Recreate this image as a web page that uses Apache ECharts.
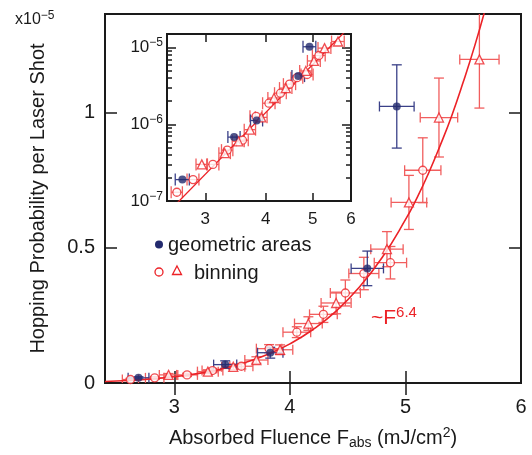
<!DOCTYPE html>
<html>
<head>
<meta charset="utf-8">
<script src="https://cdn.jsdelivr.net/npm/echarts@6/dist/echarts.min.js"></script>
<style>
  html, body { margin: 0; padding: 0; background: #fff; }
  #chart { width: 532px; height: 455px; }
</style>
</head>
<body>
<div id="chart"></div>
<script>
// values in units of 1e-5 (main plot), F in mJ/cm2
const geoF = [2.69, 3.44, 3.83, 4.67, 4.925];
const geoP = [0.019, 0.068, 0.112, 0.424, 1.023];
const geoFErr = [0.09, 0.10, 0.11, 0.14, 0.15];
const geoPErr = [0.004, 0.014, 0.02, 0.064, 0.154];

const circF = [2.62, 2.83, 3.11, 3.33, 3.58, 3.82, 4.06, 4.29, 4.48, 4.64, 4.87, 5.15];
const circP = [0.013, 0.019, 0.030, 0.046, 0.062, 0.127, 0.188, 0.254, 0.333, 0.405, 0.445, 0.787];
const circFErr = [0.07, 0.08, 0.09, 0.09, 0.10, 0.11, 0.12, 0.12, 0.13, 0.13, 0.14, 0.157];
const circPErr = [0.004, 0.005, 0.006, 0.008, 0.01, 0.015, 0.02, 0.03, 0.048, 0.06, 0.06, 0.12];

const triF = [2.95, 3.29, 3.51, 3.71, 3.915, 4.16, 4.40, 4.84, 5.03, 5.29, 5.64];
const triP = [0.030, 0.042, 0.060, 0.085, 0.123, 0.220, 0.296, 0.495, 0.668, 0.982, 1.197];
const triFErr = [0.08, 0.09, 0.10, 0.10, 0.11, 0.12, 0.13, 0.14, 0.154, 0.162, 0.17];
const triPErr = [0.005, 0.007, 0.01, 0.012, 0.018, 0.025, 0.04, 0.065, 0.10, 0.146, 0.18];

// ~F^6.4 fit line
const fitF = [2.4, 2.6, 2.8, 3.0, 3.2, 3.4, 3.6, 3.8, 4.0, 4.2, 4.4, 4.6, 4.8, 5.0, 5.1, 5.2, 5.3, 5.4, 5.5, 5.6, 5.7];
const fitP = [0.0055, 0.0092, 0.0148, 0.023, 0.0347, 0.0512, 0.0737, 0.1043, 0.1447, 0.1979, 0.266, 0.354, 0.465, 0.604, 0.685, 0.776, 0.878, 0.988, 1.113, 1.248, 1.397];
const insetFitF = [2.5, 6.0];
const insetFitP = [0.69e-7, 1.94e-5];

const mainXTicks = [3, 4, 5, 6];
const mainYTicks = [0, 0.5, 1];
const insetXTicks = [3, 4, 5, 6];
const insetYTicks = [1e-7, 1e-6, 1e-5];
const insetYMinor = [2e-7, 3e-7, 4e-7, 5e-7, 6e-7, 7e-7, 8e-7, 9e-7, 2e-6, 3e-6, 4e-6, 5e-6, 6e-6, 7e-6, 8e-6, 9e-6];

const FONT = '"Liberation Sans", Arial, sans-serif';
const NAVY = '#232a6e';
const NAVY_ERR = '#3a4088';
const RED = '#ec2227';
const RED_ERR = '#f15e5e';
const INK = '#1a1a1a';

const chart = echarts.init(document.getElementById('chart'));

function pts(fs, ps, scale) {
  return fs.map((f, i) => [f, ps[i] * scale]);
}
function errPts(fs, ps, fe, pe, scale) {
  return fs.map((f, i) => [f, ps[i] * scale, fe[i], pe[i] * scale]);
}

// error bars drawn through the axes' own coord mapping
function errorBars(color, cap, withY) {
  return function (params, api) {
    const x = api.value(0), y = api.value(1), ex = api.value(2), ey = api.value(3);
    const l = api.coord([x - ex, y]);
    const r = api.coord([x + ex, y]);
    const style = { stroke: color, lineWidth: 1.3, fill: null };
    const children = [
      { type: 'line', shape: { x1: l[0], y1: l[1], x2: r[0], y2: r[1] }, style },
      { type: 'line', shape: { x1: l[0], y1: l[1] - cap, x2: l[0], y2: l[1] + cap }, style },
      { type: 'line', shape: { x1: r[0], y1: r[1] - cap, x2: r[0], y2: r[1] + cap }, style },
    ];
    if (withY && ey > 0) {
      const t = api.coord([x, y + ey]);
      const b = api.coord([x, y - ey]);
      children.push(
        { type: 'line', shape: { x1: t[0], y1: t[1], x2: b[0], y2: b[1] }, style },
        { type: 'line', shape: { x1: t[0] - cap, y1: t[1], x2: t[0] + cap, y2: t[1] }, style },
        { type: 'line', shape: { x1: b[0] - cap, y1: b[1], x2: b[0] + cap, y2: b[1] }, style }
      );
    }
    return { type: 'group', children };
  };
}

const tickStyle = { color: INK, width: 1.5 };
const noLine = { show: false };
const noSplit = { show: false };

function tickAxis(base, ticks, len) {
  return Object.assign({
    axisLine: noLine,
    splitLine: noSplit,
    axisLabel: { show: false },
    axisTick: { inside: true, length: len, customValues: ticks, lineStyle: tickStyle },
  }, base);
}

const supRich = {
  b: { fontSize: 17, fontFamily: FONT, color: INK },
  s: { fontSize: 12, fontFamily: FONT, color: INK, padding: [0, 0, 9, 0] },
};

const option = {
  animation: false,
  backgroundColor: '#fff',
  grid: [
    { left: 105, top: 14, width: 416, height: 374, show: true, borderColor: INK, borderWidth: 2, backgroundColor: 'transparent' },
    { left: 167, top: 34, width: 184, height: 167, show: true, borderColor: INK, borderWidth: 2, backgroundColor: '#fff' },
  ],
  xAxis: [
    {
      type: 'value', gridIndex: 0, min: 2.4, max: 6, position: 'bottom',
      axisLine: noLine, splitLine: noSplit,
      axisTick: { inside: true, length: 12, customValues: [3, 4, 5], lineStyle: tickStyle },
      axisLabel: { customValues: mainXTicks, margin: 14, fontSize: 20, color: INK, fontFamily: FONT },
      name: '{a|Absorbed Fluence F}{sub|abs}{a| (mJ/cm}{sup|2}{a|)}',
      nameLocation: 'middle', nameGap: 43,
      nameTextStyle: {
        rich: {
          a: { fontSize: 20, fontFamily: FONT, color: INK },
          sub: { fontSize: 14, fontFamily: FONT, color: INK, padding: [10, 0, 0, 0] },
          sup: { fontSize: 14, fontFamily: FONT, color: INK, padding: [0, 0, 10, 0] },
        },
      },
    },
    tickAxis({ type: 'value', gridIndex: 0, min: 2.4, max: 6, position: 'top' }, [3, 4, 5], 12),
    {
      type: 'log', logBase: 10, gridIndex: 1, min: 2.5, max: 6, position: 'bottom',
      axisLine: noLine, splitLine: noSplit,
      axisTick: { inside: true, length: 8, customValues: [3, 4, 5], lineStyle: tickStyle },
      axisLabel: {
        customValues: insetXTicks, margin: 10, fontSize: 17, color: INK, fontFamily: FONT,
        formatter: (v) => String(Math.round(v)),
      },
    },
    tickAxis({ type: 'log', logBase: 10, gridIndex: 1, min: 2.5, max: 6, position: 'top' }, [3, 4, 5], 8),
  ],
  yAxis: [
    {
      type: 'value', gridIndex: 0, min: 0, max: 1.365, position: 'left',
      axisLine: noLine, splitLine: noSplit,
      axisTick: { inside: true, length: 12, customValues: [0.5, 1], lineStyle: tickStyle },
      axisLabel: { customValues: mainYTicks, margin: 10, fontSize: 20, color: INK, fontFamily: FONT },
      name: 'Hopping Probability per Laser Shot',
      nameLocation: 'middle', nameGap: 57, nameRotate: 90,
      nameTextStyle: { fontSize: 20, fontFamily: FONT, color: INK },
    },
    tickAxis({ type: 'value', gridIndex: 0, min: 0, max: 1.365, position: 'right' }, [0.5, 1], 12),
    {
      type: 'log', logBase: 10, gridIndex: 1, min: 1e-7, max: 1.5e-5, position: 'left',
      axisLine: noLine, splitLine: noSplit,
      axisTick: { inside: true, length: 9, customValues: [1e-6, 1e-5], lineStyle: tickStyle },
      axisLabel: {
        customValues: insetYTicks, margin: 4, color: INK, fontFamily: FONT,
        formatter: (v) => '{b|10}{s|\u2212' + (-Math.round(Math.log10(v))) + '}',
        rich: supRich,
      },
    },
    tickAxis({ type: 'log', logBase: 10, gridIndex: 1, min: 1e-7, max: 1.5e-5, position: 'left' }, insetYMinor, 5),
    tickAxis({ type: 'log', logBase: 10, gridIndex: 1, min: 1e-7, max: 1.5e-5, position: 'right' }, [1e-6, 1e-5], 9),
    tickAxis({ type: 'log', logBase: 10, gridIndex: 1, min: 1e-7, max: 1.5e-5, position: 'right' }, insetYMinor, 5),
  ],
  series: [
    // main plot
    {
      type: 'line', xAxisIndex: 0, yAxisIndex: 0, data: pts(fitF, fitP, 1),
      smooth: true, symbol: 'none', lineStyle: { color: RED, width: 1.6 }, z: 3, silent: true,
    },
    {
      type: 'custom', xAxisIndex: 0, yAxisIndex: 0, renderItem: errorBars(RED_ERR, 5, true),
      data: errPts(circF, circP, circFErr, circPErr, 1).concat(errPts(triF, triP, triFErr, triPErr, 1)),
      encode: { x: 0, y: 1 }, clip: true, z: 2, silent: true,
    },
    {
      type: 'custom', xAxisIndex: 0, yAxisIndex: 0, renderItem: errorBars(NAVY_ERR, 5, true),
      data: errPts(geoF, geoP, geoFErr, geoPErr, 1),
      encode: { x: 0, y: 1 }, clip: true, z: 2, silent: true,
    },
    {
      type: 'scatter', xAxisIndex: 0, yAxisIndex: 0, data: pts(circF, circP, 1),
      symbol: 'circle', symbolSize: 8, itemStyle: { color: '#fff', borderColor: RED, borderWidth: 1.3 }, z: 4,
    },
    {
      type: 'scatter', xAxisIndex: 0, yAxisIndex: 0, data: pts(triF, triP, 1),
      symbol: 'triangle', symbolSize: 9, itemStyle: { color: '#fff', borderColor: RED, borderWidth: 1.3 }, z: 4,
    },
    {
      type: 'scatter', xAxisIndex: 0, yAxisIndex: 0, data: pts(geoF, geoP, 1),
      symbol: 'circle', symbolSize: 8, itemStyle: { color: NAVY }, z: 5,
    },
    // inset (absolute probability, log-log)
    {
      type: 'line', xAxisIndex: 2, yAxisIndex: 2, data: pts(insetFitF, insetFitP, 1),
      symbol: 'none', lineStyle: { color: RED, width: 1.3 }, z: 3, silent: true,
    },
    {
      type: 'custom', xAxisIndex: 2, yAxisIndex: 2, renderItem: errorBars(RED_ERR, 6, false),
      data: errPts(circF, circP, circFErr, circPErr, 1e-5).concat(errPts(triF, triP, triFErr, triPErr, 1e-5)),
      encode: { x: 0, y: 1 }, clip: true, z: 2, silent: true,
    },
    {
      type: 'custom', xAxisIndex: 2, yAxisIndex: 2, renderItem: errorBars(NAVY_ERR, 6, false),
      data: errPts(geoF, geoP, geoFErr, geoPErr, 1e-5),
      encode: { x: 0, y: 1 }, clip: true, z: 2, silent: true,
    },
    {
      type: 'scatter', xAxisIndex: 2, yAxisIndex: 2, data: pts(circF, circP, 1e-5),
      symbol: 'circle', symbolSize: 8, itemStyle: { color: '#fff', borderColor: RED, borderWidth: 1.3 }, z: 4,
    },
    {
      type: 'scatter', xAxisIndex: 2, yAxisIndex: 2, data: pts(triF, triP, 1e-5),
      symbol: 'triangle', symbolSize: 9, itemStyle: { color: '#fff', borderColor: RED, borderWidth: 1.3 }, z: 4,
    },
    {
      type: 'scatter', xAxisIndex: 2, yAxisIndex: 2, data: pts(geoF, geoP, 1e-5),
      symbol: 'circle', symbolSize: 8, itemStyle: { color: NAVY }, z: 5,
    },
  ],
  graphic: [
    {
      type: 'text', x: 15, y: 20, z: 10,
      style: {
        text: '{a|x10}{s|\u22125}', verticalAlign: 'middle', align: 'left',
        rich: {
          a: { fontSize: 16, fontFamily: FONT, fill: INK },
          s: { fontSize: 12, fontFamily: FONT, fill: INK, padding: [0, 0, 9, 0] },
        },
      },
    },
    {
      type: 'text', x: 371, y: 318, z: 10,
      style: {
        text: '{a|~F}{s|6.4}', verticalAlign: 'middle', align: 'left',
        rich: {
          a: { fontSize: 21, fontFamily: FONT, fill: RED },
          s: { fontSize: 15, fontFamily: FONT, fill: RED, padding: [0, 0, 11, 0] },
        },
      },
    },
    { type: 'circle', z: 10, shape: { cx: 159, cy: 244.5, r: 4 }, style: { fill: NAVY } },
    {
      type: 'text', x: 168, y: 245, z: 10,
      style: { text: 'geometric areas', font: '20px ' + FONT, fill: INK, verticalAlign: 'middle', align: 'left' },
    },
    { type: 'circle', z: 10, shape: { cx: 159, cy: 272, r: 4 }, style: { fill: '#fff', stroke: RED, lineWidth: 1.3 } },
    {
      type: 'polygon', z: 10,
      shape: { points: [[177, 266], [181.5, 274.5], [172.5, 274.5]] },
      style: { fill: '#fff', stroke: RED, lineWidth: 1.3 },
    },
    {
      type: 'text', x: 194, y: 273, z: 10,
      style: { text: 'binning', font: '20px ' + FONT, fill: INK, verticalAlign: 'middle', align: 'left' },
    },
  ],
};

chart.setOption(option);
</script>
</body>
</html>
